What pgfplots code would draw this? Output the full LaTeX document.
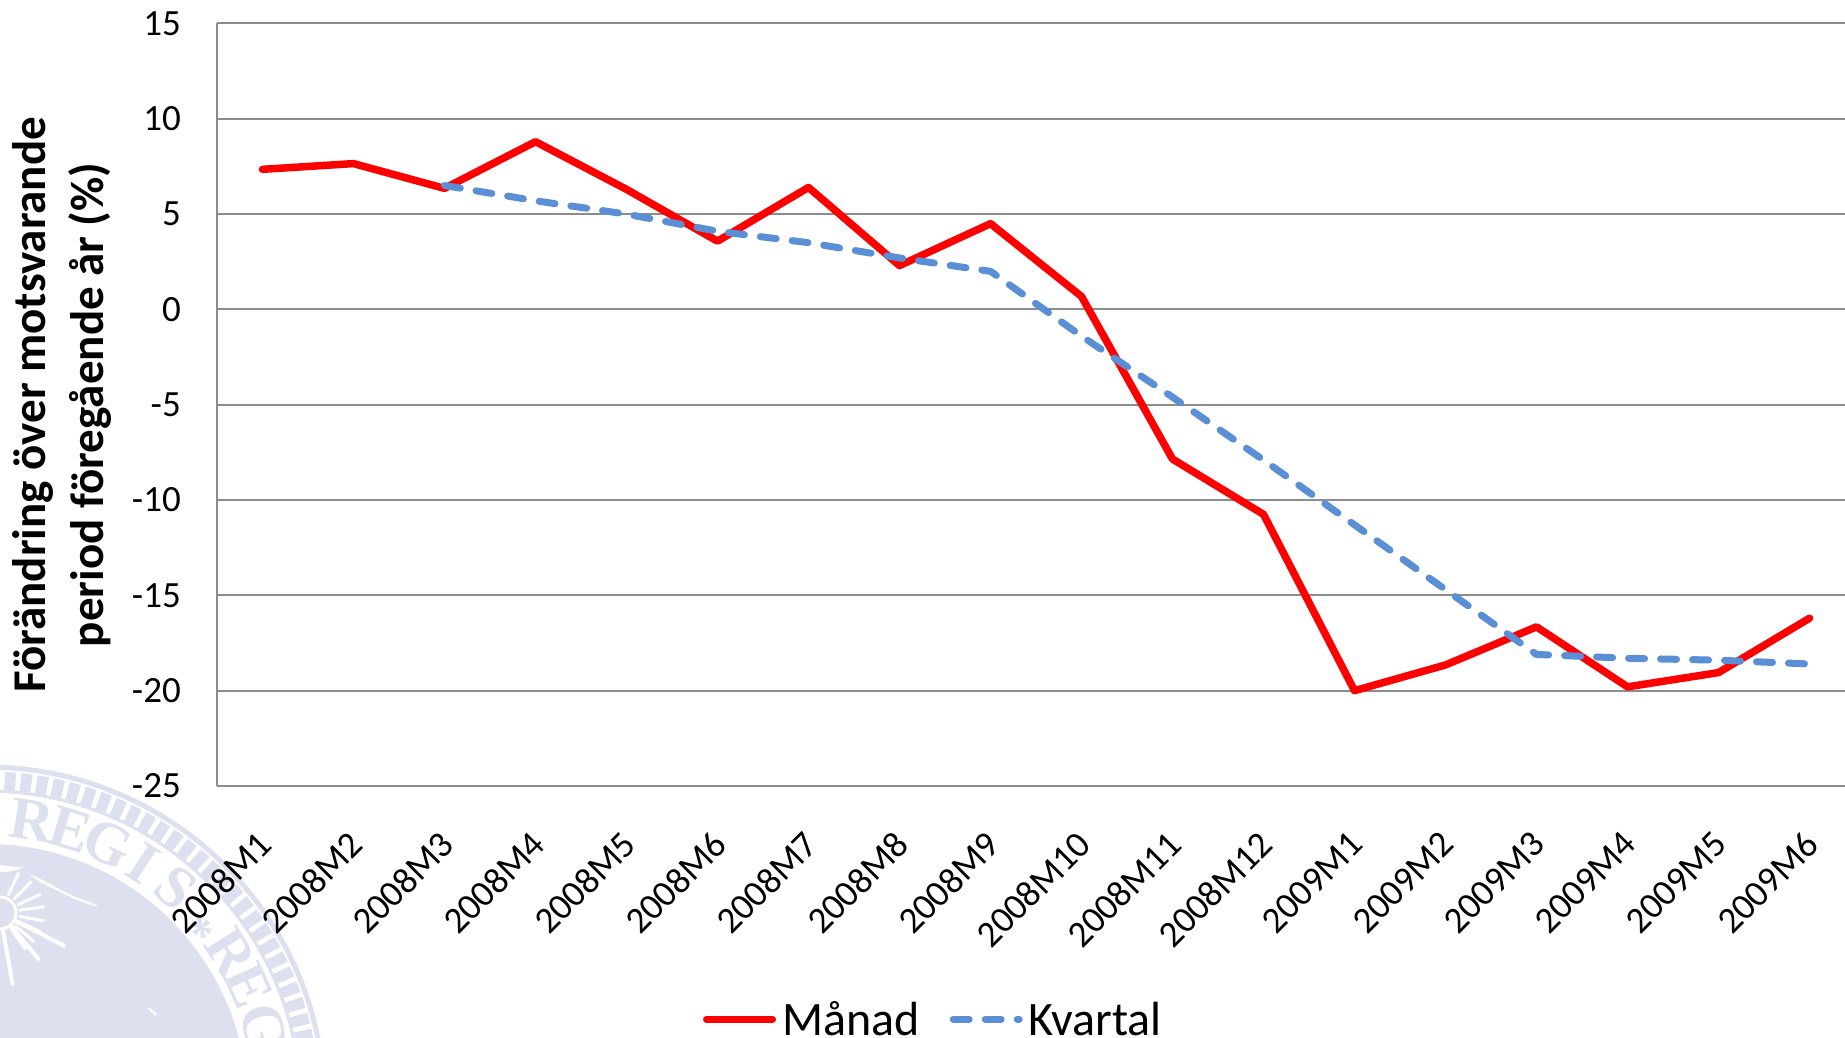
\documentclass[border=0pt]{standalone}
\usepackage{fontspec}
\setmainfont{Carlito}
\newfontfamily\sealfont{Liberation Serif}
\usepackage{pgfplots}
\pgfplotsset{compat=1.18}
\definecolor{seal}{HTML}{DCE0EF}
\definecolor{gridc}{HTML}{8C8C8C}
\definecolor{kv}{HTML}{5B8FD5}
\begin{document}
\begin{tikzpicture}
\path[use as bounding box] (0pt,0pt) rectangle (1845pt,1037pt);
\begin{scope}
\clip (0pt,0pt) rectangle (1845pt,1037pt);
% watermark seal
\begin{scope}[shift={(-13.5pt,-68pt)},x=1pt,y=1pt]
\draw[seal,line width=5pt] (0,0) circle (338);
\draw[seal,line width=19pt,dash pattern=on 11pt off 5pt] (0,0) circle (324);
\draw[seal,line width=3pt] (0,0) circle (314);
\fill[seal] (0,0) circle (261);
\foreach \a/\l in {81/R,73/E,65/G,57/I,49/S,32/R,24.5/E,15.5/G}
  \node[text=seal,font=\sealfont\bfseries\fontsize{60}{60}\selectfont,rotate=\a-90] at (\a:288) {\l};
\node[text=seal,font=\sealfont\bfseries\fontsize{50}{50}\selectfont,rotate=-50] at (39.5:272) {*};
% sun and white cuts inside the disc
\begin{scope}[shift={(13.5,192)}]
\draw[white,line width=3pt] (0,0) circle (16);
\foreach \a in {-55,-40,-25,-10,8,25,45,65}
  \draw[white,line width=3pt,line cap=round] (\a:20) -- (\a:44);
\draw[white,line width=4pt,line cap=round] (-27:18) -- (-27:72);
\draw[white,line width=4pt,line cap=round] (-50:18) -- (-50:60);
\draw[white,line width=4pt,line cap=round] (-80:18) -- (-80:72);
\end{scope}
\fill[white] (42,231) .. controls (60,225) and (80,210) .. (100,204) .. controls (110,200) .. (112,198)
  .. controls (90,203) and (65,218) .. (55,222) -- cycle;
\fill[white] (-5,243) .. controls (10,240) and (25,238) .. (37,238) .. controls (25,232) and (10,232) .. (-5,233) -- cycle;
\draw[white,line width=2pt] (162,97) -- (170,90);
\end{scope}
\begin{axis}[
  at={(217pt,251pt)}, anchor=south west,
  scale only axis, width=1628pt, height=762.5pt,
  xmin=-0.5, xmax=17.39, ymin=-25, ymax=15,
  axis x line=bottom, axis y line=left,
  axis line style={gridc,line width=2pt,-},
  clip=true,
  ytick={-25,-20,-15,-10,-5,0,5,10,15},
  yticklabels={-25,-20,-15,-10,-5,0,5,10,15},
  xtick={0,...,17},
  xticklabels={2008M1,2008M2,2008M3,2008M4,2008M5,2008M6,2008M7,2008M8,2008M9,2008M10,2008M11,2008M12,2009M1,2009M2,2009M3,2009M4,2009M5,2009M6},
  major tick length=0pt,
  ymajorgrids, grid style={gridc,line width=2pt},
  yticklabel style={font=\fontsize{37}{40}\selectfont,inner sep=0pt,xshift=-36pt},
  xticklabel style={font=\fontsize{37}{40}\selectfont,rotate=45,anchor=north east,inner sep=0pt,xshift=-35pt,yshift=-26pt},
  ylabel={Förändring över motsvarande\\period föregående år (\%)},
  every axis y label/.style={at={(rel axis cs:0,0.5)},rotate=90,anchor=center,yshift=155pt,align=center,font=\fontsize{47}{58}\selectfont\bfseries},
  legend style={draw=none,fill=none,font=\fontsize{48}{52}\selectfont,legend columns=2,
    /tikz/every even column/.append style={column sep=28pt},inner sep=0pt,outer sep=0pt,
    legend cell align=left,anchor=south west,at={(486pt,-253pt)}},
]
\addplot[red,line width=7.5pt,line join=round,line cap=round,
  legend image code/.code={\draw[red,line width=7pt,line cap=round] (0pt,0pt) -- (66pt,0pt);\path (70pt,0pt);}]
 coordinates {(0,7.35)(1,7.65)(2,6.35)(3,8.8)(4,6.3)(5,3.58)(6,6.4)(7,2.3)(8,4.5)(9,0.68)(10,-7.85)(11,-10.75)(12,-20)(13,-18.65)(14,-16.65)(15,-19.8)(16,-19.05)(17,-16.2)};
\addlegendentry{Månad}
\addplot[kv,line width=7pt,line join=round,line cap=round,dash pattern=on 16pt off 16pt,
  legend image code/.code={\draw[kv,line width=7pt,line cap=round,dash pattern=on 16pt off 16pt] (0pt,0pt) -- (66pt,0pt);\path (70pt,0pt);}]
 coordinates {(2,6.5)(3,5.7)(4,5.0)(5,4.1)(6,3.5)(7,2.7)(8,2.0)(9,-1.4)(10,-4.6)(11,-7.9)(12,-11.3)(13,-14.7)(14,-18.1)(15,-18.3)(16,-18.4)(17,-18.6)};
\addlegendentry{Kvartal}
\end{axis}
\end{scope}
\end{tikzpicture}
\end{document}
